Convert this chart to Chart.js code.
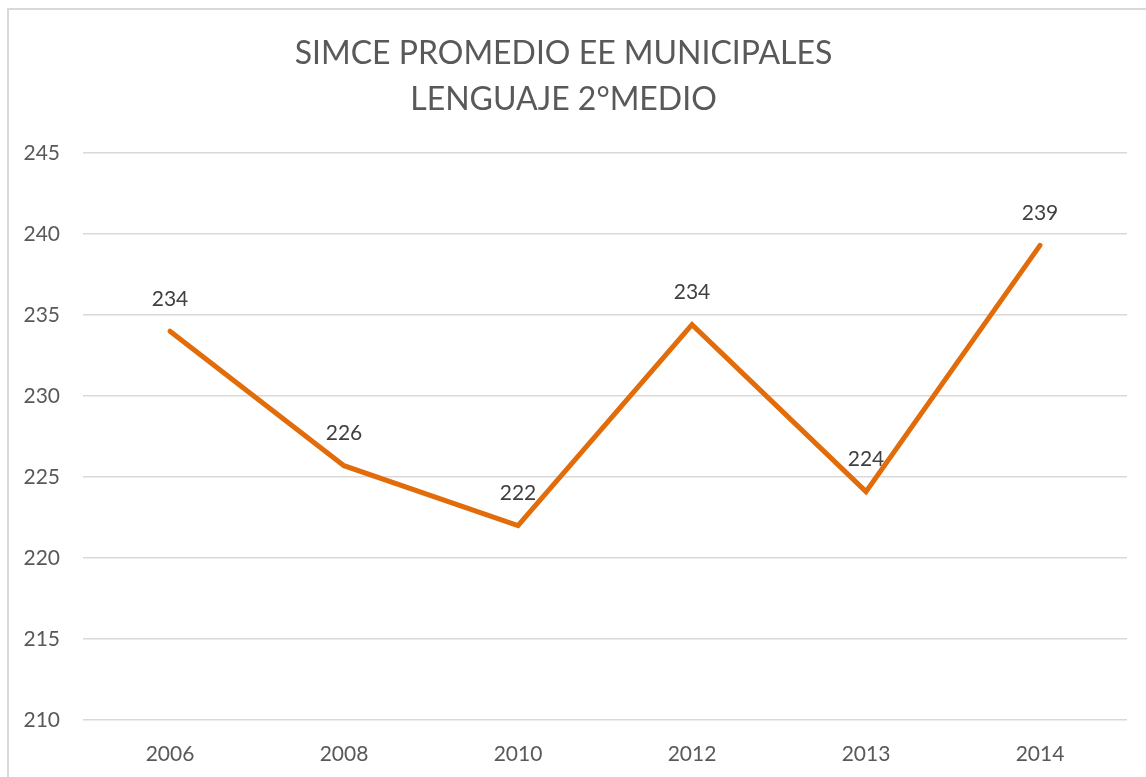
<!DOCTYPE html>
<html>
<head>
<meta charset="utf-8">
<script src="https://cdn.jsdelivr.net/npm/chart.js@4"></script>
<style>
  html, body { margin: 0; padding: 0; background: #fff; }
  #wrap { position: relative; width: 1146px; height: 777px; }
</style>
</head>
<body>
<div id="wrap"><canvas id="lineChart" width="1146" height="777"></canvas></div>
<script>
// chart data
const years = ['2006', '2008', '2010', '2012', '2013', '2014'];
const simceValues = [234.0, 225.7, 222.0, 234.4, 224.1, 239.3];
const titleLines = ['SIMCE PROMEDIO EE MUNICIPALES', 'LENGUAJE 2°MEDIO'];

const FONT = 'Lato, "Open Sans", sans-serif';

// light grey frame round the chart, like the office export
const framePlugin = {
    id: 'frame',
    beforeDraw(chart) {
        const ctx = chart.ctx;
        ctx.save();
        ctx.fillStyle = '#ffffff';
        ctx.fillRect(0, 0, chart.width, chart.height);
        ctx.strokeStyle = '#d9d9d9';
        ctx.lineWidth = 2;
        ctx.strokeRect(8, 9, chart.width + 20, chart.height + 20);
        ctx.restore();
    }
};

// value labels above each point
const valueLabels = {
    id: 'valueLabels',
    afterDatasetsDraw(chart) {
        const ctx = chart.ctx;
        const meta = chart.getDatasetMeta(0);
        ctx.save();
        ctx.font = '21px ' + FONT;
        ctx.fillStyle = '#404040';
        ctx.textAlign = 'center';
        ctx.textBaseline = 'middle';
        meta.data.forEach((pt, i) => {
            const v = chart.data.datasets[0].data[i];
            ctx.fillText(Math.round(v), pt.x, pt.y - 32);
        });
        ctx.restore();
    }
};

const ctx = document.getElementById('lineChart').getContext('2d');
new Chart(ctx, {
    type: 'line',
    data: {
        labels: years,
        datasets: [{
            data: simceValues,
            borderColor: '#E36C0A',
            borderWidth: 5,
            pointRadius: 0,
            tension: 0,
            borderCapStyle: 'round',
            borderJoinStyle: 'miter'
        }]
    },
    options: {
        responsive: false,
        animation: false,
        layout: { padding: { left: 0, right: 19, top: 0, bottom: 0 } },
        plugins: {
            legend: { display: false },
            tooltip: { enabled: false },
            title: {
                display: true,
                text: titleLines,
                color: '#595959',
                font: { family: FONT, size: 32, weight: 'normal', lineHeight: 1.4375 },
                padding: { top: 31, bottom: 30 }
            }
        },
        scales: {
            x: {
                offset: true,
                grid: { display: false },
                border: { display: false },
                ticks: { color: '#595959', font: { family: FONT, size: 21 }, padding: 14 },
                afterFit(scale) { scale.height = 57; }
            },
            y: {
                min: 210,
                max: 245,
                ticks: { stepSize: 5, color: '#595959', font: { family: FONT, size: 21 }, padding: 23 },
                grid: { color: '#d9d9d9', lineWidth: 1.5, drawTicks: false },
                border: { display: false },
                afterFit(scale) { scale.width = 83; }
            }
        }
    },
    plugins: [framePlugin, valueLabels]
});
</script>
</body>
</html>
